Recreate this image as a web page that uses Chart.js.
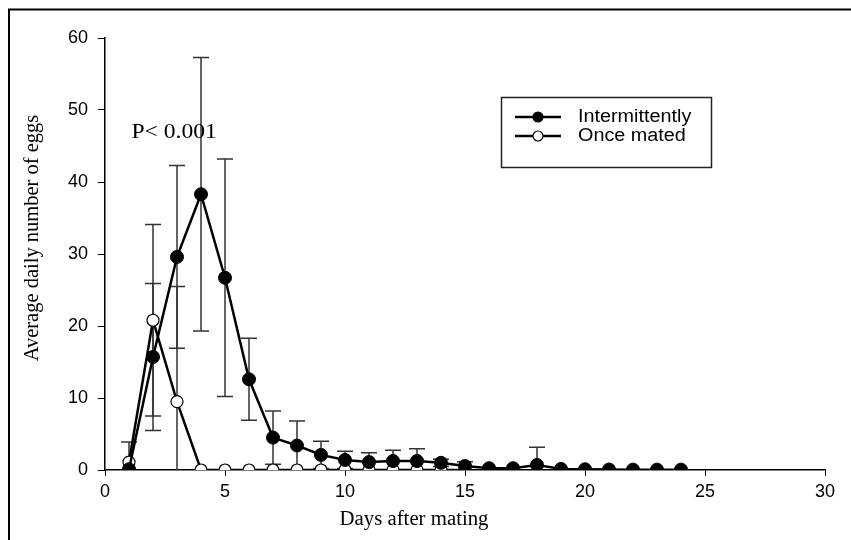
<!DOCTYPE html>
<html>
<head>
<meta charset="utf-8">
<script src="https://cdn.jsdelivr.net/npm/chart.js@4.4.1/dist/chart.umd.min.js"></script>
<style>
html,body{margin:0;padding:0;background:#fff;}
#wrap{width:851px;height:540px;position:relative;}
</style>
</head>
<body>
<div id="wrap"><canvas id="c" width="851" height="540"></canvas></div>
<script>
// Data
const daysIntermittent = [1,2,3,4,5,6,7,8,9,10,11,12,13,14,15,16,17,18,19,20,21,22,23,24];
const meanIntermittent = [0.1,15.7,29.6,38.3,26.7,12.6,4.5,3.4,2.1,1.4,1.1,1.25,1.25,1.0,0.55,0.25,0.25,0.7,0.15,0.1,0.07,0.05,0.05,0.05];
const errIntermittent  = [0,10.2,12.7,19.0,16.5,5.7,3.7,3.4,1.9,1.2,1.3,1.5,1.7,0.5,0.6,0,0,2.45,0,0,0,0,0,0];

const daysOnce = [1,2,3,4,5,6,7,8,9,10,11,12,13,14,15];
const meanOnce = [1.1,20.8,9.5,0,0,0,0,0,0,0,0,0,0,0,0];
const errOnce  = [2.8,13.3,16.0,0,0,0,0,0,0,0,0,0,0,0,0];

const xTicks = [0,5,10,15,20,25,30];
const yTicks = [0,10,20,30,40,50,60];
const seriesNames = ['Intermittently','Once mated'];
const xTitle = 'Days after mating';
const yTitle = 'Average daily number of eggs';
const annotation = 'P< 0.001';

const toPts = (xs, ys) => xs.map((x,i)=>({x:x, y:ys[i]}));

function drawStretched(ctx, text, x, y, font, sx, align){
  ctx.save();
  ctx.font = font;
  ctx.textAlign = align || 'left';
  ctx.textBaseline = 'middle';
  ctx.translate(x, y);
  ctx.scale(sx, 1);
  ctx.fillText(text, 0, 0);
  ctx.restore();
}

const errorBarPlugin = {
  id:'errbars',
  beforeDatasetsDraw(chart){
    const ctx = chart.ctx, xs = chart.scales.x, ys = chart.scales.y;
    const sets = [[daysIntermittent, meanIntermittent, errIntermittent],[daysOnce, meanOnce, errOnce]];
    ctx.save();
    ctx.strokeStyle = '#333';
    ctx.lineWidth = 1.5;
    const area = chart.chartArea;
    sets.forEach(([d,m,e])=>{
      d.forEach((day,i)=>{
        if(!e[i]) return;
        const px = xs.getPixelForValue(day);
        const hi = m[i]+e[i], lo = m[i]-e[i];
        const pyHi = ys.getPixelForValue(hi);
        const pyLo = lo > 0 ? ys.getPixelForValue(lo) : area.bottom;
        ctx.beginPath();
        ctx.moveTo(px, pyHi); ctx.lineTo(px, pyLo);
        ctx.moveTo(px-8, pyHi); ctx.lineTo(px+8, pyHi);
        if(lo > 0){ ctx.moveTo(px-8, pyLo); ctx.lineTo(px+8, pyLo); }
        ctx.stroke();
      });
    });
    ctx.restore();
  }
};

const decoPlugin = {
  id:'deco',
  afterDraw(chart){
    const ctx = chart.ctx;
    ctx.save();
    // outer frame
    ctx.strokeStyle = '#000';
    ctx.lineWidth = 2;
    ctx.beginPath();
    ctx.moveTo(9, 540); ctx.lineTo(9, 9.5); ctx.lineTo(851, 9.5);
    ctx.stroke();
    ctx.fillStyle = '#000';
    // axis titles
    drawStretched(ctx, xTitle, 414, 520, '20px "Liberation Serif", "Times New Roman", serif', 1.04, 'center');
    ctx.save();
    ctx.translate(33, 238);
    ctx.rotate(-Math.PI/2);
    ctx.font = '20.5px "Liberation Serif", "Times New Roman", serif';
    ctx.textAlign = 'center';
    ctx.textBaseline = 'middle';
    ctx.fillText(yTitle, 0, 0);
    ctx.restore();
    // annotation
    const ax = chart.scales.x.getPixelForValue(1.1);
    const ay = chart.scales.y.getPixelForValue(46.9);
    drawStretched(ctx, annotation, ax, ay, '20px "Liberation Serif", "Times New Roman", serif', 1.18, 'left');
    // legend box
    ctx.lineWidth = 1.5;
    ctx.strokeStyle = '#222';
    ctx.strokeRect(501.5, 97.5, 210, 70);
    const rows = [117, 136];
    rows.forEach((ry,i)=>{
      ctx.strokeStyle = '#000';
      ctx.lineWidth = 2.5;
      ctx.beginPath(); ctx.moveTo(515, ry); ctx.lineTo(561, ry); ctx.stroke();
      ctx.beginPath();
      ctx.arc(538, ry, 5, 0, Math.PI*2);
      ctx.fillStyle = i===0 ? '#000' : '#fff';
      ctx.fill();
      ctx.lineWidth = 1.2;
      ctx.stroke();
      ctx.fillStyle = '#000';
      drawStretched(ctx, seriesNames[i], 578, ry, '18px "Liberation Sans", Arial, sans-serif', 1.1, 'left');
    });
    ctx.restore();
  }
};

new Chart(document.getElementById('c'), {
  type:'line',
  data:{
    datasets:[
      {
        label: seriesNames[1],
        data: toPts(daysOnce, meanOnce),
        borderColor:'#000', borderWidth:2.5,
        pointStyle:'circle', pointRadius:6, pointBackgroundColor:'#fff',
        pointBorderColor:'#000', pointBorderWidth:1.2,
        tension:0, order:2
      },
      {
        label: seriesNames[0],
        data: toPts(daysIntermittent, meanIntermittent),
        borderColor:'#000', borderWidth:2.5,
        pointStyle:'circle', pointRadius:6.5, pointBackgroundColor:'#000',
        pointBorderColor:'#000', pointBorderWidth:1,
        tension:0, order:1
      }
    ]
  },
  options:{
    responsive:false,
    animation:false,
    devicePixelRatio:1,
    layout:{padding:{left:0, right:26, top:38, bottom:0}},
    plugins:{legend:{display:false}, tooltip:{enabled:false}},
    scales:{
      x:{
        type:'linear', min:0, max:30,
        afterBuildTicks(s){ s.ticks = xTicks.map(v=>({value:v})); },
        afterFit(s){ s.height = 70; },
        grid:{drawOnChartArea:false, drawTicks:true, tickLength:6, color:'#000', lineWidth:1},
        border:{display:true, color:'#000', width:1.5},
        ticks:{color:'#000', font:{family:'"Liberation Sans", Arial, sans-serif', size:18}, padding:5, maxRotation:0}
      },
      y:{
        type:'linear', min:0, max:60,
        afterBuildTicks(s){ s.ticks = yTicks.map(v=>({value:v})); },
        afterFit(s){ s.width = 105; },
        grid:{drawOnChartArea:false, drawTicks:true, tickLength:7, color:'#000', lineWidth:1},
        border:{display:true, color:'#000', width:1.5},
        ticks:{color:'#000', font:{family:'"Liberation Sans", Arial, sans-serif', size:18}, padding:10}
      }
    }
  },
  plugins:[errorBarPlugin, decoPlugin]
});
</script>
</body>
</html>
